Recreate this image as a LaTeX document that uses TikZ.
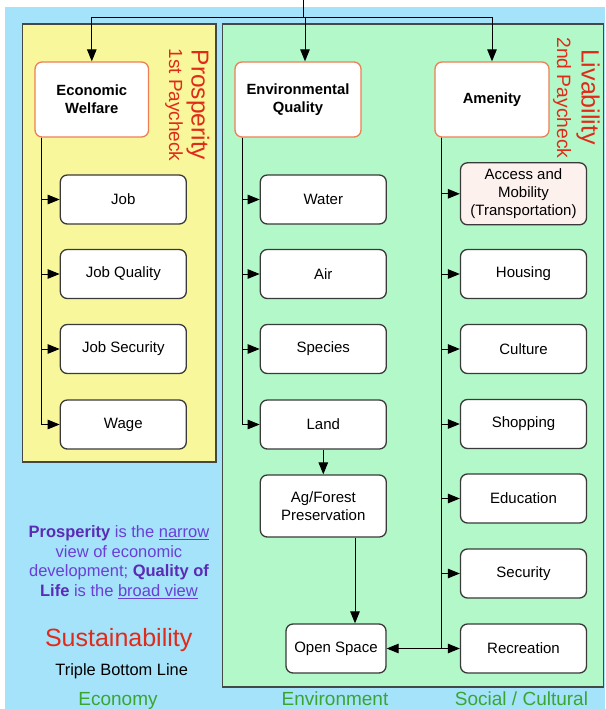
\documentclass[tikz,border=0pt]{standalone}
\usepackage{fontspec}
\setmainfont{Liberation Sans}
\usetikzlibrary{arrows.meta}
\definecolor{bgblue}{HTML}{A5E3FA}
\definecolor{ylw}{HTML}{F8F79B}
\definecolor{grn}{HTML}{B3F8C8}
\definecolor{panelline}{HTML}{444946}
\definecolor{boxline}{HTML}{3A3A3A}
\definecolor{orng}{HTML}{EE7F55}
\definecolor{pinkfill}{HTML}{FDF1EE}
\definecolor{redtxt}{HTML}{E02A1A}
\definecolor{purp}{HTML}{6B3FD6}
\definecolor{purpdark}{HTML}{5A2BB5}
\definecolor{grntxt}{HTML}{3BA532}
\tikzset{
  panel/.style={draw=panelline, line width=1.5pt},
  itembox/.style={draw=boxline, line width=1.3pt, fill=white, rounded corners=7pt,
    minimum width=126pt, minimum height=49pt, inner sep=0pt, align=center,
    font=\fontsize{15}{18}\selectfont},
  headbox/.style={draw=orng, line width=1.3pt, fill=white, rounded corners=7pt,
    minimum height=75pt, inner sep=0pt, align=center,
    font=\fontsize{14.8}{18}\selectfont\bfseries},
  arr/.style={draw=black, line width=1pt, -{Triangle[length=12pt,width=9.5pt]}},
  ln/.style={draw=black, line width=1pt},
  vlabel/.style={text=redtxt, rotate=-90, inner sep=0pt},
  foot/.style={text=grntxt, font=\fontsize{19}{22}\selectfont, inner sep=0pt}
}
\begin{document}
\begin{tikzpicture}[x=1pt,y=-1pt]
\useasboundingbox (0,0) rectangle (605,709);
\fill[bgblue] (5,7) rectangle (605,709);
\draw[panel, fill=ylw] (22.7,24) rectangle (215.8,462);
\draw[panel, fill=grn] (222.7,24) rectangle (603.5,687);

% header boxes
\node[headbox, minimum width=113.5pt] (ew) at (91.8,99.5) {Economic\\Welfare};
\node[headbox, minimum width=126pt] (eq) at (298,99.5) {Environmental\\Quality};
\node[headbox, minimum width=114pt] (am) at (492,99.5) {Amenity};

% vertical labels
\node[vlabel, font=\fontsize{24.5}{26}\selectfont] (prosp) at (198,105) {Prosperity};
\node[vlabel, font=\fontsize{19}{22}\selectfont] (pay1) at (174,105) {1st Paycheck};
\node[vlabel, font=\fontsize{25}{27}\selectfont] (liv) at (588,97) {Livability};
\node[vlabel, font=\fontsize{19.3}{22}\selectfont] (pay2) at (562,98) {2nd Paycheck};

% economy column
\node[itembox] (job) at (123.3,199.5) {Job};
\node[itembox] (jq) at (123.3,274) {Job Quality};
\node[itembox] (js) at (123.3,349) {Job Security};
\node[itembox] (wage) at (123.3,424.5) {Wage};

% environment column
\node[itembox] (water) at (323.3,199.5) {Water};
\node[itembox] (air) at (323.3,274) {Air};
\node[itembox] (species) at (323.3,349) {Species};
\node[itembox] (land) at (323.3,424.5) {Land};
\node[itembox, minimum height=62pt] (ag) at (323.3,506) {Ag/Forest\\Preservation};
\node[itembox, minimum width=100pt] (os) at (336,648.5) {Open Space};

% amenity column
\node[itembox, fill=pinkfill, minimum height=62pt] (acc) at (523.5,193.8) {Access and\\Mobility\\(Transportation)};
\node[itembox] (hous) at (523.5,274) {Housing};
\node[itembox] (cult) at (523.5,349) {Culture};
\node[itembox] (shop) at (523.5,424) {Shopping};
\node[itembox] (edu) at (523.5,498.5) {Education};
\node[itembox] (sec) at (523.5,573.5) {Security};
\node[itembox] (rec) at (523.5,648.5) {Recreation};

% top connectors
\coordinate (top) at (303,0);
\coordinate (split) at (303,18);
\coordinate (eqx) at (305,18);
\draw[ln] (top) -- (split);
\draw[arr] (split) -| (ew.north);
\draw[arr] (split) -| (am.north);
\draw[arr] (eqx) -- (eqx |- eq.north);

% branch spines
\coordinate (ewb) at ([xshift=6.7pt]ew.south west);
\coordinate (eqb) at ([xshift=7.7pt]eq.south west);
\coordinate (amb) at ([xshift=7.3pt]am.south west);
\foreach \c in {job,jq,js,wage} { \draw[arr] (ewb) |- (\c.west); }
\foreach \c in {water,air,species,land} { \draw[arr] (eqb) |- (\c.west); }
\foreach \c in {acc,hous,cult,shop,edu,sec,rec} { \draw[arr] (amb) |- (\c.west); }
\draw[arr] (amb |- rec.west) -- (os.east);

\draw[arr] (land.south) -- (ag.north);
\coordinate (agx) at (355,0);
\draw[arr] (ag.south -| agx) -- (os.north -| agx);

% left texts
\node[text=purp, align=center, font=\fontsize{16.5}{19.5}\selectfont, inner sep=0pt] (def) at (119,562)
  {\textcolor{purpdark}{\bfseries Prosperity} is the \underline{narrow}\\view of economic\\development; \textcolor{purpdark}{\bfseries Quality of}\\\textcolor{purpdark}{\bfseries Life} is the \underline{broad view}};
\node[text=redtxt, font=\fontsize{25}{28}\selectfont, inner sep=0pt] (sust) at (118.7,640) {Sustainability};
\node[font=\fontsize{16.4}{19}\selectfont, inner sep=0pt] (tbl) at (121.7,671) {Triple Bottom Line};

% footer labels
\node[foot] (econ) at (118,701) {Economy};
\node[foot] (env) at (335,699) {Environment};
\node[foot] (soc) at (521.5,699) {Social / Cultural};
\end{tikzpicture}
\end{document}
